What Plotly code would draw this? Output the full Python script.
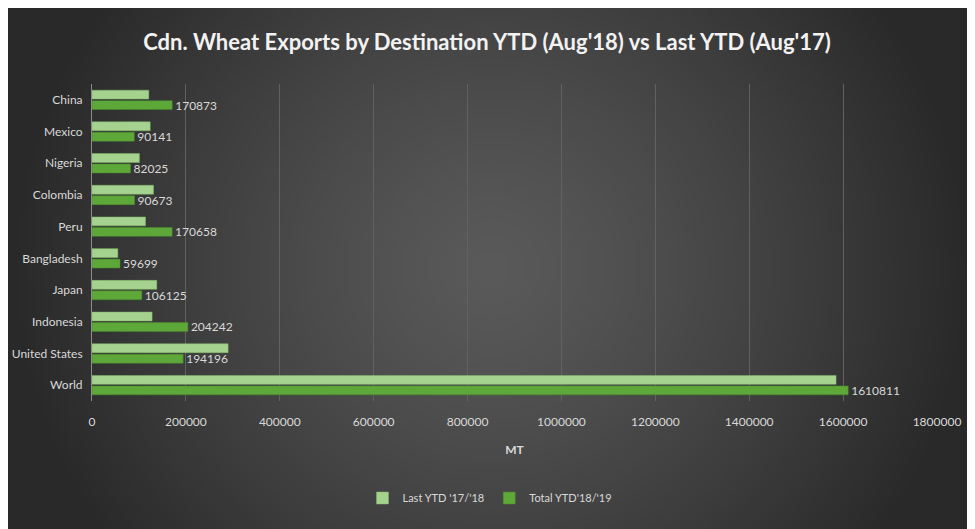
import base64
import struct
import zlib

import numpy as np
import plotly.graph_objects as go

# ---- data ----
countries = ["China", "Mexico", "Nigeria", "Colombia", "Peru", "Bangladesh",
             "Japan", "Indonesia", "United States", "World"]
last_ytd = [121000, 124000, 101000, 131000, 114000, 55000,
            138000, 128000, 290000, 1585000]
total_ytd = [170873, 90141, 82025, 90673, 170658, 59699,
             106125, 204242, 194196, 1610811]
x_ticks = [0, 200000, 400000, 600000, 800000, 1000000, 1200000, 1400000, 1600000, 1800000]
series_names = ["Last YTD '17/'18", "Total YTD'18/'19"]

title_text = "Cdn. Wheat Exports by Destination YTD (Aug'18) vs Last YTD (Aug'17)"
x_title = "MT"


# ---- radial gradient background as PNG ----
def gradient_png(w=240, h=130):
    xs = np.linspace(-1, 1, w)
    ys = np.linspace(-1, 1, h)
    X, Y = np.meshgrid(xs, ys)
    d = np.sqrt(X ** 2 + (0.55 * Y) ** 2)
    d = np.clip(d, 0, 1)
    c = 0x5a - (0x5a - 0x29) * d ** 1.25
    img = np.clip(c, 0, 255).astype(np.uint8)
    rgb = np.stack([img, img, img], axis=-1)
    raw = b"".join(b"\x00" + rgb[r].tobytes() for r in range(h))

    def chunk(tag, data):
        return (struct.pack(">I", len(data)) + tag + data
                + struct.pack(">I", zlib.crc32(tag + data) & 0xffffffff))

    png = b"\x89PNG\r\n\x1a\n"
    png += chunk(b"IHDR", struct.pack(">IIBBBBB", w, h, 8, 2, 0, 0, 0))
    png += chunk(b"IDAT", zlib.compress(raw, 9))
    png += chunk(b"IEND", b"")
    return "data:image/png;base64," + base64.b64encode(png).decode()


# page has an 8px body margin; figure fills the rest of the window
W, H = 967, 521
ML, MR, MT_, MB = 84, 38, 76, 128
pw = W - ML - MR
ph = H - MT_ - MB

font_family = "Lato, Open Sans, sans-serif"
txt_color = "#d9d9d9"

fig = go.Figure()
fig.add_trace(go.Bar(
    y=countries, x=last_ytd, orientation="h", name=series_names[0],
    marker=dict(color="#a5d28e", line=dict(color="#7fb866", width=0.5)),
))
fig.add_trace(go.Bar(
    y=countries, x=total_ytd, orientation="h", name=series_names[1],
    marker=dict(color="#5ea83a", line=dict(color="#4a8a2c", width=0.5)),
    text=[str(v) for v in total_ytd], textposition="outside",
    constraintext="none",
    textfont=dict(color=txt_color, size=12, family=font_family),
    cliponaxis=False,
))

fig.update_layout(
    width=W, height=H, autosize=False,
    margin=dict(l=ML, r=MR, t=MT_, b=MB, pad=0, autoexpand=False),
    paper_bgcolor="#3a3a3a",
    plot_bgcolor="rgba(0,0,0,0)",
    barmode="group", bargap=0.34, bargroupgap=0.15,
    font=dict(family=font_family, color=txt_color, size=12),
    title=dict(text=title_text, x=(479 - ML) / pw, xref="paper", xanchor="center",
               y=(H - 34) / H, yref="container", yanchor="middle",
               font=dict(size=22, color="#f2f2f2", family=font_family, weight="bold")),
    showlegend=True,
    legend=dict(orientation="h", x=(482 - ML) / pw, xanchor="center", xref="paper",
                y=-(490 - (H - MB)) / ph, yanchor="middle", yref="paper",
                traceorder="normal", font=dict(size=11, color=txt_color),
                itemwidth=30, bgcolor="rgba(0,0,0,0)"),
    images=[dict(source=gradient_png(), xref="paper", yref="paper",
                 x=-ML / pw, y=(H - MB) / ph,
                 sizex=W / pw, sizey=H / ph,
                 xanchor="left", yanchor="top", sizing="stretch", layer="below")],
)

fig.update_xaxes(range=[0, 1800000], tickvals=x_ticks, ticktext=[str(v) for v in x_ticks],
                 showgrid=True, gridcolor="#616161", gridwidth=1, zeroline=False,
                 showline=False, ticks="", tickangle=0, automargin=False,
                 ticklabelstandoff=12,
                 tickfont=dict(size=12, color=txt_color),
                 title=dict(text=x_title, font=dict(size=12, color=txt_color,
                                                    weight="bold"), standoff=17),
                 fixedrange=True)
fig.update_yaxes(autorange="reversed", showgrid=False, showline=True, linecolor="#8c8c8c",
                 linewidth=1, ticks="", automargin=False,
                 tickfont=dict(size=12, color=txt_color),
                 ticklabelstandoff=6, fixedrange=True)

fig.write_html("out.html")
